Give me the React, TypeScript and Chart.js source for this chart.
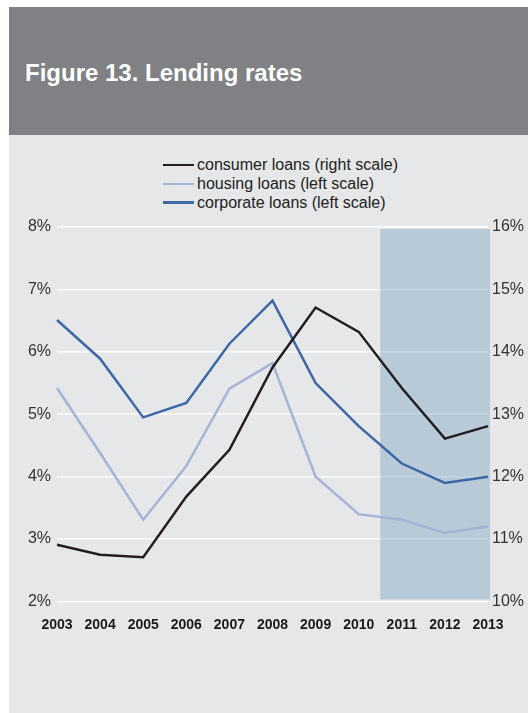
import React, { useEffect, useRef } from "react";
import { Chart, registerables } from "chart.js";

Chart.register(...registerables);

const years = ["2003", "2004", "2005", "2006", "2007", "2008", "2009", "2010", "2011", "2012", "2013"];
const consumerLoans = [10.91, 10.75, 10.71, 11.68, 12.43, 13.75, 14.71, 14.32, 13.42, 12.61, 12.81];
const housingLoans = [5.42, 4.38, 3.31, 4.17, 5.41, 5.82, 4.0, 3.4, 3.31, 3.1, 3.2];
const corporateLoans = [6.51, 5.89, 4.95, 5.18, 6.13, 6.82, 5.5, 4.81, 4.21, 3.9, 4.0];
const shadedYears = ["2011", "2012", "2013"];
const leftTicks = [2, 8];
const rightTicks = [10, 16];

const legendItems = [
  { label: "consumer loans (right scale)", color: "#231f20" },
  { label: "housing loans (left scale)", color: "#a4b3d8" },
  { label: "corporate loans (left scale)", color: "#3e67a6" },
];

const FONT = "'Liberation Sans', Arial, Helvetica, sans-serif";

const shadePlugin = {
  id: "shade",
  beforeDatasetsDraw(chart: any) {
    const x = chart.scales.x;
    const y = chart.scales.y;
    const first = years.indexOf(shadedYears[0]);
    const last = years.indexOf(shadedYears[shadedYears.length - 1]);
    const x0 = x.getPixelForValue(first - 0.5);
    const x1 = x.getPixelForValue(last) + 2;
    const y0 = y.getPixelForValue(leftTicks[1]) + 2;
    const y1 = y.getPixelForValue(leftTicks[0]) - 2;
    const ctx = chart.ctx;
    ctx.save();
    ctx.fillStyle = "rgba(138,171,200,0.5)";
    ctx.fillRect(x0, y0, x1 - x0, y1 - y0);
    ctx.restore();
  },
};

export default function App() {
  const ref = useRef<HTMLCanvasElement | null>(null);

  useEffect(() => {
    if (!ref.current) return;
    const chart = new Chart(ref.current, {
      type: "line",
      data: {
        labels: years,
        datasets: [
          {
            label: legendItems[0].label,
            data: consumerLoans,
            yAxisID: "y1",
            borderColor: legendItems[0].color,
            borderWidth: 2.5,
            pointRadius: 0,
            tension: 0,
          },
          {
            label: legendItems[1].label,
            data: housingLoans,
            yAxisID: "y",
            borderColor: legendItems[1].color,
            borderWidth: 2.5,
            pointRadius: 0,
            tension: 0,
          },
          {
            label: legendItems[2].label,
            data: corporateLoans,
            yAxisID: "y",
            borderColor: legendItems[2].color,
            borderWidth: 2.5,
            pointRadius: 0,
            tension: 0,
          },
        ],
      },
      options: {
        animation: false,
        responsive: false,
        maintainAspectRatio: false,
        layout: { padding: { top: 92, left: 0, right: 0, bottom: 0 } },
        plugins: { legend: { display: false }, tooltip: { enabled: false } },
        scales: {
          x: {
            offset: false,
            grid: { display: false, drawTicks: false },
            border: { display: false },
            ticks: {
              padding: 15,
              maxRotation: 0,
              autoSkip: false,
              color: "#1a1a1a",
              font: { family: FONT, size: 14, weight: "bold" },
            },
            afterFit(scale: any) {
              scale.height = 111.5;
            },
          },
          y: {
            position: "left",
            min: leftTicks[0],
            max: leftTicks[1],
            ticks: {
              stepSize: 1,
              padding: 6,
              color: "#333333",
              font: { family: FONT, size: 16 },
              callback: (v: any) => v + "%",
            },
            grid: { color: "#ffffff", lineWidth: 1.6, drawTicks: false },
            border: { display: false },
            afterFit(scale: any) {
              scale.width = 48;
            },
          },
          y1: {
            position: "right",
            min: rightTicks[0],
            max: rightTicks[1],
            ticks: {
              stepSize: 1,
              padding: 4,
              color: "#333333",
              font: { family: FONT, size: 16 },
              callback: (v: any) => v + "%",
            },
            grid: { display: false, drawTicks: false },
            border: { display: false },
            afterFit(scale: any) {
              scale.width = 40;
            },
          },
        },
      },
      plugins: [shadePlugin],
    });
    return () => chart.destroy();
  }, []);

  return (
    <div style={{ position: "absolute", left: 0, top: 0, width: 528, height: 713, background: "#ffffff", overflow: "hidden", fontFamily: FONT }}>
      <div style={{ position: "absolute", left: 9, top: 7, width: 519, height: 706, background: "#e6e7e8" }} />
      <div style={{ position: "absolute", left: 9, top: 7, width: 519, height: 128, background: "#808184" }} />
      <div style={{ position: "absolute", left: 25, top: 61, lineHeight: "24px", fontSize: 24, fontWeight: "bold", color: "#ffffff", whiteSpace: "nowrap" }}>
        Figure 13. Lending rates
      </div>
      {legendItems.map((item, i) => (
        <div key={item.label} style={{ position: "absolute", left: 163, top: 165 + i * 18.8 - 9, height: 18, display: "flex", alignItems: "center", whiteSpace: "nowrap" }}>
          <div style={{ width: 31, height: 2.5, background: item.color, marginRight: 3 }} />
          <span style={{ fontSize: 16, color: "#222222", lineHeight: "18px" }}>{item.label}</span>
        </div>
      ))}
      <canvas ref={ref} width={519} height={578} style={{ position: "absolute", left: 9, top: 135, width: 519, height: 578 }} />
    </div>
  );
}
